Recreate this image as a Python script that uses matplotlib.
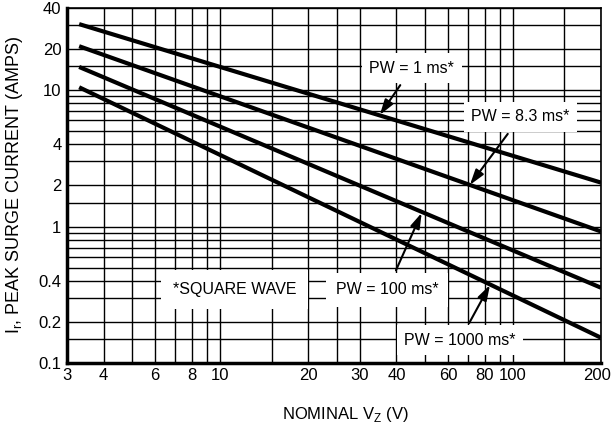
from matplotlib import pyplot as plt
import matplotlib.ticker as mticker
from matplotlib.transforms import ScaledTranslation

# data
v_start, v_end = 3.3, 200
pw_labels = ["PW = 1 ms*", "PW = 8.3 ms*", "PW = 100 ms*", "PW = 1000 ms*"]
i_start = [30.5, 21.0, 14.8, 10.5]
i_end = [2.1, 0.92, 0.356, 0.153]

x_major = [3, 4, 6, 8, 10, 20, 30, 40, 60, 80, 100, 200]
x_minor = [5, 7, 9, 15, 25, 50, 70, 90, 150]
y_major = [0.1, 0.2, 0.4, 1, 2, 4, 10, 20, 40]
y_minor = [0.15, 0.3, 0.5, 0.6, 0.7, 0.8, 0.9, 1.5, 3, 5, 6, 7, 8, 9, 15, 30]

plt.rcParams['font.family'] = ['Liberation Sans', 'DejaVu Sans']
plt.rcParams['mathtext.fontset'] = 'custom'
plt.rcParams['mathtext.rm'] = 'Liberation Sans'

fig = plt.figure(figsize=(6.11, 4.24), dpi=100)
ax = fig.add_axes([0.1097, 0.144, 0.874, 0.837])

for a, b in zip(i_start, i_end):
    ax.plot([v_start, v_end], [a, b], color="black", lw=3, solid_capstyle="butt", zorder=3)

ax.set_xscale("log")
ax.set_yscale("log")
ax.set_xlim(3, 200)
ax.set_ylim(0.1, 40)

ax.xaxis.set_major_locator(mticker.FixedLocator(x_major))
ax.xaxis.set_minor_locator(mticker.FixedLocator(x_minor))
ax.yaxis.set_major_locator(mticker.FixedLocator(y_major))
ax.yaxis.set_minor_locator(mticker.FixedLocator(y_minor))
ax.xaxis.set_major_formatter(mticker.FixedFormatter([str(v) for v in x_major]))
ax.xaxis.set_minor_formatter(mticker.NullFormatter())
ax.yaxis.set_major_formatter(mticker.FixedFormatter([f"{v:g}" for v in y_major]))
ax.yaxis.set_minor_formatter(mticker.NullFormatter())
ax.tick_params(which="both", length=0, labelsize=12, pad=4)

# nudge the "200" label so it stays inside the figure
last = ax.xaxis.get_major_ticks()[-1].label1
last.set_transform(last.get_transform() + ScaledTranslation(-0.04, 0, fig.dpi_scale_trans))

ax.grid(which="both", color="black", lw=1)
for s in ["left", "bottom"]:
    ax.spines[s].set_linewidth(2.5)
for s in ["top", "right"]:
    ax.spines[s].set_linewidth(1.2)

box = dict(boxstyle="square,pad=0.45", fc="white", ec="none")
arrow = dict(arrowstyle="-|>,head_length=0.8,head_width=0.25", color="black", lw=1.5,
             shrinkA=2, shrinkB=0)
fs = 11.5

# annotations
ax.annotate(pw_labels[0], xy=(35.1, 6.58), xytext=(45.2, 14.5), fontsize=fs,
            ha="center", va="center", bbox=box, arrowprops=arrow, zorder=4)
ax.annotate(pw_labels[1], xy=(71.3, 2.02), xytext=(106, 6.36), fontsize=fs,
            ha="center", va="center", bbox=box, arrowprops=arrow, zorder=4)
ax.annotate(pw_labels[2], xy=(48.8, 1.26), xytext=(37.2, 0.343), fontsize=fs,
            ha="center", va="center", bbox=dict(boxstyle="square,pad=0.6", fc="white", ec="none"),
            arrowprops=arrow, zorder=4)
ax.annotate(pw_labels[3], xy=(83.5, 0.373), xytext=(65.9, 0.147), fontsize=fs,
            ha="center", va="center", bbox=box, arrowprops=arrow, zorder=4)
ax.text(11.2, 0.343, "*SQUARE WAVE", fontsize=fs, ha="center", va="center",
        bbox=dict(boxstyle="square,pad=0.75", fc="white", ec="none"), zorder=4)

ax.set_ylabel(r"I$_\mathregular{r}$, PEAK SURGE CURRENT (AMPS)", fontsize=13)
ax.yaxis.set_label_coords(-0.079, 0.502)
ax.set_xlabel(r"NOMINAL V$_\mathregular{Z}$ (V)", fontsize=12)
ax.xaxis.set_label_coords(0.522, -0.118)

fig.savefig("out.png", dpi=100)
